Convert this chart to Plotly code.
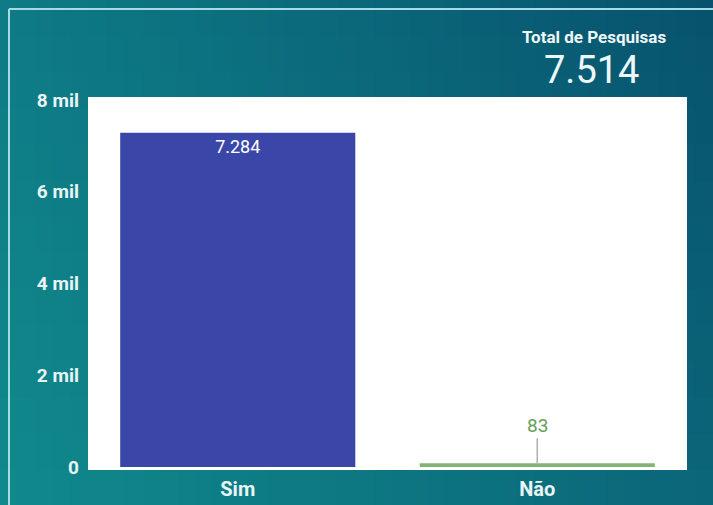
import plotly.graph_objects as go

categories = ["Sim", "Não"]
values = [7284, 83]
total_pesquisas = 7514
ytick_vals = [0, 2000, 4000, 6000, 8000]
ytick_text = ["0", "2 mil", "4 mil", "6 mil", "8 mil"]

W, H = 713, 505
L, R, T, B = 88, 26, 97, 35
PW, PH = W - L - R, H - T - B


def px_x(px):
    return (px - L) / PW


def px_y(py):
    return (H - B - py) / PH


def hex2rgb(h):
    h = h.lstrip("#")
    return [int(h[i:i + 2], 16) for i in (0, 2, 4)]


TL, TR = hex2rgb("#0e7b86"), hex2rgb("#07526d")
BL, BR = hex2rgb("#108a8c"), hex2rgb("#0b6679")


def color_at(u, v):
    top = [TL[i] + (TR[i] - TL[i]) * u for i in range(3)]
    bot = [BL[i] + (BR[i] - BL[i]) * u for i in range(3)]
    c = [round(top[i] + (bot[i] - top[i]) * v) for i in range(3)]
    return "rgb(%d,%d,%d)" % tuple(c)


shapes = []
NX, NY = 40, 14
for i in range(NX):
    for j in range(NY):
        x0, x1 = W * i / NX, W * (i + 1) / NX + 1
        y0, y1 = H * j / NY, H * (j + 1) / NY + 1
        shapes.append(dict(
            type="rect", xref="paper", yref="paper", layer="below",
            x0=px_x(x0), x1=px_x(x1), y0=px_y(y1), y1=px_y(y0),
            fillcolor=color_at((i + 0.5) / NX, (j + 0.5) / NY),
            line=dict(width=0),
        ))
# white plot area
shapes.append(dict(type="rect", xref="paper", yref="paper", layer="below",
                   x0=0, x1=1, y0=0, y1=1, fillcolor="white", line=dict(width=0)))
# panel frame lines
frame_col = "#a6dbe2"
shapes.append(dict(type="line", xref="paper", yref="paper", layer="above",
                   x0=px_x(9), x1=px_x(W + 5), y0=px_y(9), y1=px_y(9),
                   line=dict(color=frame_col, width=2)))
shapes.append(dict(type="line", xref="paper", yref="paper", layer="above",
                   x0=px_x(9), x1=px_x(9), y0=px_y(9), y1=px_y(H + 5),
                   line=dict(color=frame_col, width=2)))

fig = go.Figure()
fig.add_trace(go.Bar(
    x=categories, y=values,
    marker=dict(color=["#3b47a8", "#86b276"], line=dict(width=0)),
    texttemplate="%{y:,.0f}",
    textposition=["inside", "none"],
    insidetextanchor="end",
    textfont=dict(color="white", size=18, family="Roboto"),
    width=0.785,
    hoverinfo="skip",
))

annotations = [
    dict(x=categories[1], y=values[1], xref="x", yref="y", text=f"{values[1]}",
         showarrow=True, arrowhead=0, arrowwidth=1.5, arrowcolor="#b0b0b0",
         ax=0, ay=-38, standoff=0,
         font=dict(color="#6a9e58", size=19, family="Roboto")),
    dict(x=px_x(594), y=px_y(37), xref="paper", yref="paper",
         text="Total de Pesquisas", showarrow=False, xanchor="center", yanchor="middle",
         font=dict(color="#eef7f8", size=17, family="Roboto", weight="bold")),
    dict(x=px_x(591), y=px_y(70), xref="paper", yref="paper",
         text=f"{total_pesquisas:,}".replace(",", "."), showarrow=False,
         xanchor="center", yanchor="middle",
         font=dict(color="#eef7f8", size=38, family="Roboto")),
]

fig.update_layout(
    width=W, height=H,
    margin=dict(l=L, r=R, t=T, b=B, pad=0, autoexpand=False),
    paper_bgcolor="#0a6a7a",
    plot_bgcolor="white",
    separators=",.",
    showlegend=False,
    shapes=shapes,
    annotations=annotations,
    bargap=0.215,
    font=dict(family="Roboto"),
    xaxis=dict(
        showgrid=False, zeroline=False, showline=False, ticks="",
        automargin=False,
        ticklabelstandoff=5,
        tickfont=dict(color="#e8f4f5", size=20, family="Roboto", weight="bold"),
        range=[-0.5, 1.5], fixedrange=True,
    ),
    yaxis=dict(
        range=[-65, 8065], tickvals=ytick_vals, ticktext=ytick_text,
        showgrid=False, zeroline=False, showline=False, ticks="",
        automargin=False,
        ticklabelstandoff=8,
        tickfont=dict(color="#e8f4f5", size=19, family="Roboto", weight="bold"),
        fixedrange=True,
    ),
)

fig.write_html("out.html", config=dict(displayModeBar=False),
               post_script="document.body.style.margin='0';")
